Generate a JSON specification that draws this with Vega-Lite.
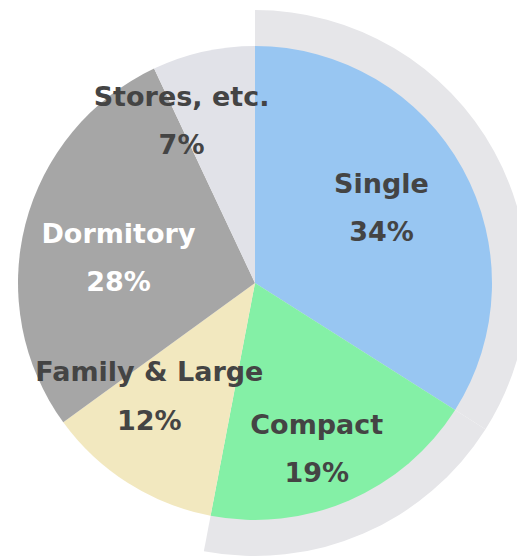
{
  "$schema": "https://vega.github.io/schema/vega-lite/v6.json",
  "autosize": {"type": "none"},
  "width": 510,
  "height": 548,
  "padding": {"left": 0, "top": 9, "right": 7, "bottom": 0},
  "background": "white",
  "view": {"stroke": null},
  "data": {
    "values": [
      {"i": 1, "type": "Single", "share": 34, "label": "Single\n34%"},
      {"i": 2, "type": "Compact", "share": 19, "label": "Compact\n19%"},
      {"i": 3, "type": "Family & Large", "share": 12, "label": "Family & Large\n12%"},
      {"i": 4, "type": "Dormitory", "share": 28, "label": "Dormitory\n28%"},
      {"i": 5, "type": "Stores, etc.", "share": 7, "label": "Stores, etc.\n7%"}
    ]
  },
  "encoding": {
    "theta": {"field": "share", "type": "quantitative", "stack": true},
    "order": {"field": "i", "type": "quantitative"},
    "detail": {"field": "type", "type": "nominal"}
  },
  "layer": [
    {
      "mark": {"type": "arc", "radius": 273, "color": "#e6e6e9"},
      "encoding": {
        "opacity": {
          "condition": {"test": "datum.type === 'Single' || datum.type === 'Compact'", "value": 1},
          "value": 0
        }
      }
    },
    {
      "mark": {"type": "arc", "radius": 237},
      "encoding": {
        "color": {
          "field": "type",
          "type": "nominal",
          "scale": {
            "domain": ["Single", "Compact", "Family & Large", "Dormitory", "Stores, etc."],
            "range": ["#98c6f2", "#84f0a6", "#f2e8bf", "#a6a6a6", "#e1e2e8"]
          },
          "legend": null
        }
      }
    },
    {
      "mark": {
        "type": "text", "radius": 158, "font": "DejaVu Sans", "fontWeight": "bold", "fontSize": 27, "lineHeight": 48.5, "lineBreak": "\n", "align": "center", "baseline": "middle",
        "dx": {"expr": "datum.type === 'Single' ? -12 : datum.type === 'Compact' ? -1 : datum.type === 'Family & Large' ? -21 : datum.type === 'Dormitory' ? 16.5 : -39"},
        "dy": {"expr": "datum.type === 'Single' ? -22 : datum.type === 'Compact' ? -2.5 : datum.type === 'Family & Large' ? -43 : datum.type === 'Dormitory' ? -9 : -31"}
      },
      "encoding": {
        "text": {"field": "label"},
        "color": {
          "condition": {"test": "datum.type === 'Dormitory'", "value": "#ffffff"},
          "value": "#444444"
        }
      }
    }
  ]
}
